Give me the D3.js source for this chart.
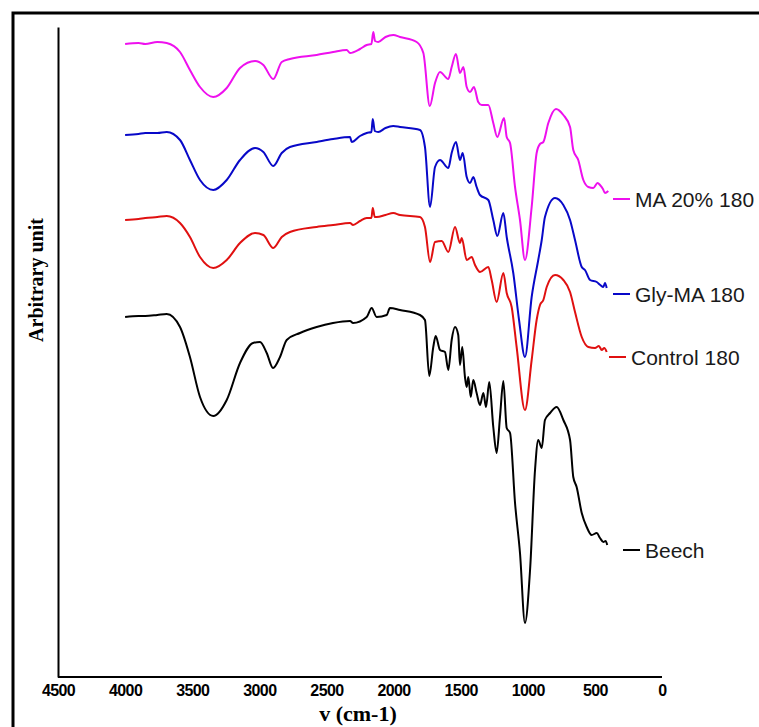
<!DOCTYPE html>
<html>
<head>
<meta charset="utf-8">
<script src="https://cdn.jsdelivr.net/npm/d3@7"></script>
<style>
html,body{margin:0;padding:0;background:#fff;}
svg{display:block;}
</style>
</head>
<body>
<svg id="chart" width="759" height="727"></svg>
<script>
// ---- data (wavenumber cm-1, arbitrary unit) ----
const xTicks = [4500, 4000, 3500, 3000, 2500, 2000, 1500, 1000, 500, 0];
const seriesNames = ["MA 20% 180", "Gly-MA 180", "Control 180", "Beech"];

const ma20 = [[4000,633],[3900,634],[3850,633],[3760,635],[3690,634],[3591,625],[3517,607],[3442,590],[3343,580],[3243,589],[3144,609],[3032,616],[2970,612],[2896,598],[2833,615],[2772,618],[2573,622],[2450,625],[2349,627],[2324,624],[2250,628],[2200,632],[2165,633],[2151,645],[2138,636],[2114,635],[2060,640],[2002,642],[1952,640],[1828,635],[1778,624],[1730,571],[1691,594],[1654,605],[1592,598],[1567,610],[1535,623],[1505,604],[1480,610],[1455,590],[1430,585],[1401,590],[1369,575],[1343,572],[1294,572],[1257,554],[1227,540],[1177,559],[1157,540],[1132,534],[1095,490],[1058,457],[1021,417],[971,470],[934,524],[909,533],[884,535],[847,554],[790,568],[735,562],[685,550],[661,527],[624,517],[586,497],[549,490],[512,489],[480,494],[462,492],[440,488],[425,484],[400,486]];

const glyMA = [[4000,542],[3900,543],[3850,544],[3760,544],[3690,545],[3591,537],[3517,517],[3442,497],[3343,487],[3243,497],[3144,517],[3032,529],[2970,525],[2896,511],[2833,524],[2772,530],[2573,535],[2450,538],[2324,540],[2312,535],[2250,541],[2200,544],[2165,545],[2155,558],[2140,546],[2114,545],[2060,549],[2002,551],[1952,550],[1803,547],[1766,530],[1728,470],[1691,510],[1654,517],[1592,509],[1567,524],[1535,535],[1505,517],[1485,524],[1455,500],[1430,494],[1406,500],[1381,490],[1356,482],[1294,477],[1257,457],[1227,441],[1182,464],[1157,440],[1108,404],[1065,357],[1021,320],[971,380],[922,417],[896,437],[872,460],[797,479],[735,472],[685,457],[648,437],[598,410],[574,407],[536,397],[486,395],[460,392],[437,390],[425,394],[412,389]];

const control = [[4000,457],[3900,458],[3850,459],[3760,460],[3690,461],[3591,454],[3517,440],[3442,420],[3343,409],[3243,417],[3144,434],[3032,444],[2970,442],[2896,429],[2833,440],[2772,445],[2573,450],[2450,452],[2324,454],[2302,452],[2250,456],[2200,459],[2165,459],[2155,469],[2140,460],[2126,460],[2060,462],[2002,464],[1952,462],[1803,460],[1766,450],[1728,415],[1691,435],[1641,436],[1592,425],[1542,450],[1505,434],[1492,439],[1455,417],[1418,420],[1393,412],[1356,405],[1294,410],[1269,397],[1232,375],[1182,404],[1157,384],[1120,370],[1083,330],[1021,267],[971,317],[934,357],[909,372],[884,377],[859,390],[797,402],[735,397],[685,385],[648,365],[598,340],[549,330],[499,329],[470,331],[449,327],[430,329],[412,325]];

const beech = [[4000,360],[3900,361],[3850,361],[3760,362],[3690,363],[3591,350],[3517,320],[3442,280],[3343,261],[3243,277],[3144,314],[3047,334],[2995,335],[2945,324],[2898,309],[2846,320],[2796,337],[2697,344],[2573,350],[2451,354],[2324,356],[2302,354],[2200,360],[2163,369],[2126,360],[2051,362],[2027,369],[1952,367],[1803,362],[1766,357],[1734,301],[1704,330],[1686,341],[1654,327],[1617,325],[1592,307],[1567,337],[1542,350],[1518,342],[1505,312],[1488,330],[1468,300],[1455,290],[1443,300],[1425,280],[1406,297],[1381,284],[1356,272],[1331,284],[1311,270],[1287,295],[1257,250],[1232,224],[1207,260],[1182,296],[1157,249],[1132,244],[1095,174],[1058,124],[1021,54],[983,107],[946,207],[922,237],[896,229],[872,257],[834,264],[785,270],[735,257],[685,237],[661,200],[636,190],[598,164],[561,150],[524,142],[486,144],[462,139],[437,135],[420,136],[408,132]];

// ---- layout / style ----
const colors = ["#ee10ee", "#0808c8", "#e01010", "#000000"];
const legendPos = [ // line start x, y offset from last point
  {x: 613, dy: 8}, {x: 613, dy: 6}, {x: 609, dy: 5}, {x: 623, dy: 5}
];

const svg = d3.select("#chart");

// outer frame
svg.append("rect").attr("x", 13).attr("y", 13).attr("width", 760).attr("height", 730)
  .attr("fill", "none").attr("stroke", "#000").attr("stroke-width", 3);

const x = d3.scaleLinear().domain([4500, 0]).range([58, 662]);
const y = d3.scaleLinear().domain([0, 650]).range([677, 27]);

// x axis
const xAxis = d3.axisBottom(x).tickValues(xTicks).tickSize(0).tickPadding(0).tickFormat(d3.format("d"));
const gx = svg.append("g").attr("transform", "translate(0,677)").call(xAxis);
gx.select(".domain").attr("stroke", "#000").attr("stroke-width", 2).attr("d", "M58,0H662");
gx.selectAll(".tick text")
  .attr("dy", null).attr("y", 18.5)
  .attr("font-family", "'Liberation Sans', Arial, sans-serif")
  .attr("font-weight", "bold").attr("font-size", 16).attr("letter-spacing", -0.6)
  .attr("fill", "#000");

// y axis (no ticks)
const yAxis = d3.axisLeft(y).tickValues([]).tickSizeOuter(0);
const gy = svg.append("g").attr("transform", "translate(58,0)").call(yAxis);
gy.select(".domain").attr("stroke", "#000").attr("stroke-width", 2);

// axis titles
svg.append("text").attr("x", 358).attr("y", 721).attr("text-anchor", "middle")
  .attr("font-family", "'Liberation Serif', 'Times New Roman', serif")
  .attr("font-weight", "bold").attr("font-size", 22).text("v (cm-1)");
svg.append("text").attr("transform", "translate(43,280) rotate(-90)").attr("text-anchor", "middle")
  .attr("font-family", "'Liberation Serif', 'Times New Roman', serif")
  .attr("font-weight", "bold").attr("font-size", 20).text("Arbitrary unit");

// curves
const line = d3.line().x(d => x(d[0])).y(d => y(d[1])).curve(d3.curveMonotoneX);
const all = [ma20, glyMA, control, beech];
all.forEach((s, i) => {
  svg.append("path").datum(s.slice().sort((a, b) => a[0] - b[0]))
    .attr("fill", "none").attr("stroke", colors[i]).attr("stroke-width", 2)
    .attr("stroke-linejoin", "round").attr("d", line);
});

// legend labels
all.forEach((s, i) => {
  const last = s[s.length - 1];
  const ly = y(last[1]) + legendPos[i].dy;
  svg.append("line").attr("x1", legendPos[i].x).attr("x2", legendPos[i].x + 17)
    .attr("y1", ly).attr("y2", ly).attr("stroke", colors[i]).attr("stroke-width", 2);
  svg.append("text").attr("x", legendPos[i].x + 22).attr("y", ly + 7.5)
    .attr("font-family", "'Liberation Sans', Arial, sans-serif").attr("font-size", 21)
    .attr("fill", "#1a1a1a").text(seriesNames[i]);
});
</script>
</body>
</html>
